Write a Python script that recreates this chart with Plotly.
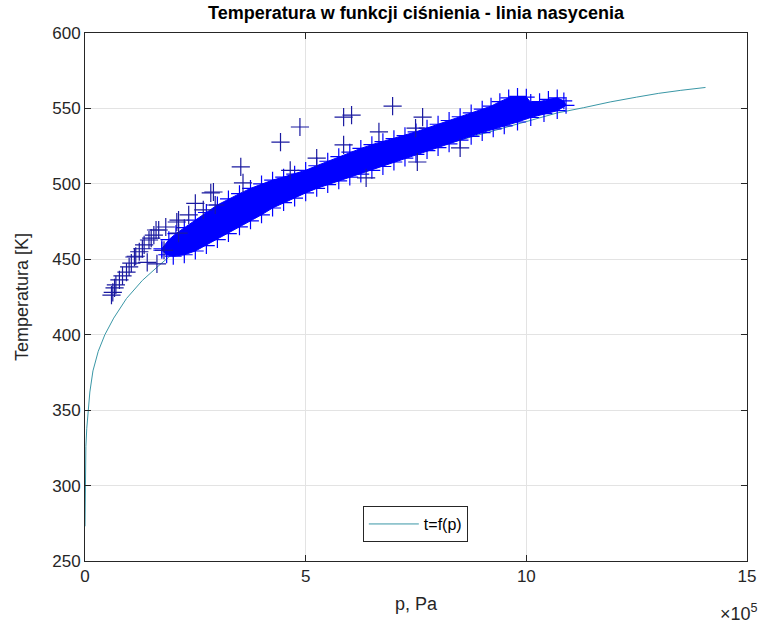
import plotly.graph_objects as go
import numpy as np

SCALE = 1e5  # x values below are given in units of 1e5 Pa

# saturation line t=f(p)
line_p = [0.0005, 0.002, 0.005, 0.01, 0.02, 0.04, 0.07, 0.11, 0.18, 0.3, 0.45, 0.65,
          0.94, 1.3, 1.68, 1.9, 2.5, 3.0, 3.5, 4.0, 4.5, 5.0, 5.5, 6.0, 6.5, 7.0, 7.5,
          8.0, 8.5, 9.0, 9.5, 10.0, 10.7, 11.3, 11.9, 12.5, 13.0, 13.5, 14.06]
line_T = [273, 285, 300, 313, 326, 338, 350, 362, 376, 389, 400, 411,
          424, 436, 446, 451.5, 462, 470, 477, 484, 490, 496, 501, 506, 511, 515.5, 520,
          525, 529, 533, 537, 541.5, 547, 550.5, 554.3, 557.5, 560, 562, 563.9]

# dense measurement band: upper and lower envelope
band_hi_p = [1.74, 1.9, 2.06, 2.25, 2.5, 2.75, 3.0, 3.25, 3.5, 3.75, 4.0, 4.25, 4.5, 4.75,
             5.0, 5.25, 5.5, 5.75, 6.0, 6.25, 6.5, 6.75, 7.0, 7.25, 7.5, 7.75, 8.0, 8.25,
             8.5, 8.75, 9.0, 9.2, 9.4, 9.6, 9.8, 10.0, 10.1, 10.3, 10.5, 10.7, 10.85]
band_hi_T = [457, 463, 467, 471, 476, 481, 486, 490, 493.5, 497, 500, 502.5, 504.5, 506.5,
             509, 512, 515, 518, 521, 523.5, 526, 528, 530, 532, 534.5, 537, 539.5, 542,
             544.5, 547, 549.5, 551.5, 554.5, 557, 558, 557.5, 554, 554.5, 556, 557, 555]
band_lo_p = [10.9, 10.7, 10.4, 10.1, 9.8, 9.5, 9.25, 9.0, 8.75, 8.5, 8.25, 8.0, 7.75, 7.5,
             7.25, 7.0, 6.75, 6.5, 6.25, 6.0, 5.75, 5.5, 5.25, 5.0, 4.75, 4.5, 4.25, 4.0,
             3.75, 3.5, 3.25, 3.0, 2.75, 2.5, 2.25, 2.0, 1.85, 1.74]
band_lo_T = [552, 548.5, 546.5, 544, 541, 538.5, 536.5, 534, 531.5, 529, 526.5, 524, 522, 519.5,
             517, 514.5, 511.5, 509, 506.5, 504.5, 502, 499.5, 497, 494, 490.5, 487.5, 484, 479.5,
             475.5, 471.5, 467, 463, 459, 455.5, 453, 452, 453, 456]

# scattered single measurements outside the band
out_p = [0.6, 0.63, 0.67, 0.7, 0.78, 0.85, 0.94, 1.0, 1.05, 1.12, 1.15, 1.23, 1.3, 1.34,
         1.41, 1.45, 1.5, 1.56, 1.61, 1.63, 1.67, 1.79, 1.83, 2.08, 2.12, 2.12, 2.35, 2.5,
         2.68, 2.85, 2.91, 2.95, 3.53, 3.58, 4.43, 4.65, 4.87, 5.25, 5.86, 5.86, 6.04,
         6.37, 6.66, 6.97, 7.49, 7.53, 7.65, 8.5]
out_T = [426.3, 428, 431, 433, 436.3, 439, 441.5, 445, 447.5, 451.5, 452, 455, 457, 459.5,
         448, 462.8, 464, 466, 469.4, 447, 469.4, 456, 471.4, 474.7, 476, 467.4, 479.4, 487,
         482.7, 494, 494.6, 486, 511.2, 500.6, 527.7, 509, 537.7, 517, 525.8, 544.3, 545.6,
         504, 534.4, 551.5, 537, 514.5, 544.3, 523.8]

BLUE = "#0000FF"
AXC = "#262626"
FONT = "Liberation Sans, Arial, Helvetica, sans-serif"

fig = go.Figure()

fig.add_trace(go.Scatter(x=np.array(line_p) * SCALE, y=line_T, mode="lines",
                         line=dict(color="#3A97A6", width=1), name="t=f(p)"))

poly_p = np.array(band_hi_p + band_lo_p) * SCALE
poly_T = band_hi_T + band_lo_T
fig.add_trace(go.Scatter(x=poly_p, y=poly_T, mode="lines", fill="toself",
                         fillcolor=BLUE, line=dict(color=BLUE, width=1),
                         showlegend=False, hoverinfo="skip"))

marker = dict(symbol="cross-thin", size=12, line=dict(color=BLUE, width=1.2), color=BLUE)
fig.add_trace(go.Scatter(x=np.array(band_hi_p + band_lo_p) * SCALE, y=band_hi_T + band_lo_T,
                         mode="markers", marker=marker, showlegend=False))
fig.add_trace(go.Scatter(x=np.array(out_p) * SCALE, y=out_T, mode="markers",
                         marker=dict(symbol="cross-thin", size=13,
                                     line=dict(color="#1a1aa0", width=1.2), color="#1a1aa0"),
                         showlegend=False))

axis_common = dict(showline=True, linecolor=AXC, linewidth=1, mirror="ticks",
                   ticks="inside", ticklen=6, tickcolor=AXC, showgrid=True,
                   gridcolor="#E3E3E3", gridwidth=1, zeroline=False,
                   tickfont=dict(family=FONT, size=17, color=AXC))

fig.update_layout(
    width=767, height=629,
    margin=dict(l=85, r=11, t=33, b=68),
    paper_bgcolor="white", plot_bgcolor="white",
    font=dict(family=FONT, color=AXC),
    title=dict(text="<b>Temperatura w funkcji ciśnienia - linia nasycenia</b>",
               x=0.5, xref="paper", xanchor="center",
               y=1 - 13 / 629, yref="container", yanchor="middle",
               font=dict(family=FONT, size=18, color="black")),
    xaxis=dict(range=[0, 15e5], tickvals=[0, 5e5, 10e5, 15e5],
               ticktext=["0", "5", "10", "15"], **axis_common),
    yaxis=dict(range=[250, 600], tickvals=[250, 300, 350, 400, 450, 500, 550, 600],
               **axis_common),
    legend=dict(x=0.499, y=0.07, xanchor="center", yanchor="middle",
                bgcolor="white", bordercolor=AXC, borderwidth=1,
                font=dict(family=FONT, size=16, color="black"),
                itemwidth=50),
    annotations=[
        dict(text="p, Pa", xref="paper", yref="paper", x=0.5, y=0, yshift=-43,
             xanchor="center", yanchor="middle", showarrow=False,
             font=dict(family=FONT, size=18, color=AXC)),
        dict(text="Temperatura [K]", xref="paper", yref="paper", x=0, y=0.5, xshift=-63,
             xanchor="center", yanchor="middle", textangle=-90, showarrow=False,
             font=dict(family=FONT, size=18, color=AXC)),
        dict(text="×10<sup>5</sup>", xref="paper", yref="paper", x=1, y=0, xshift=-8,
             yshift=-51, xanchor="center", yanchor="middle", showarrow=False,
             font=dict(family=FONT, size=18, color=AXC)),
    ],
)

fig.write_html("out.html")
